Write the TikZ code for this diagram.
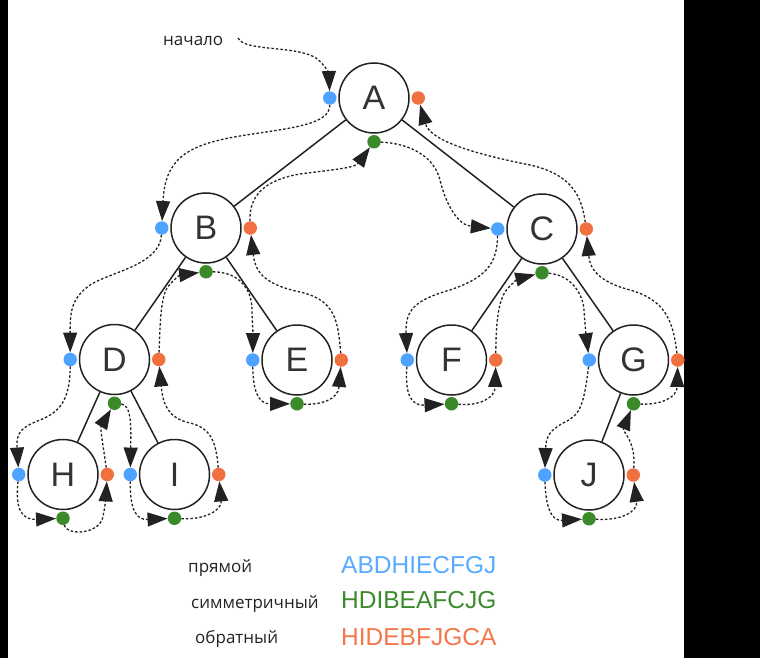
\documentclass[tikz,border=0pt]{standalone}
\usepackage{fontspec}
\setmainfont{Liberation Sans}
\newfontfamily\labfont{Open Sans}
\usetikzlibrary{arrows.meta}
\definecolor{dblue}{HTML}{4DA3FF}
\definecolor{dorange}{HTML}{F07040}
\definecolor{dgreen}{HTML}{3A8A2A}
\definecolor{lblue}{HTML}{5AABFF}
\definecolor{lgreen}{HTML}{3B8A2B}
\definecolor{lorange}{HTML}{F2784B}
\definecolor{ink}{HTML}{222222}
\begin{document}
\begin{tikzpicture}[x=1pt,y=-1pt,
  vtx/.style={circle, draw=ink, line width=1.5pt, minimum size=70pt, inner sep=0pt,
              font=\fontsize{34}{34}\selectfont, text=black!80},
  dotb/.style={circle, fill=dblue, minimum size=13.5pt, inner sep=0pt},
  doto/.style={circle, fill=dorange, minimum size=13.5pt, inner sep=0pt},
  dotg/.style={circle, fill=dgreen, minimum size=13.5pt, inner sep=0pt},
  treeedge/.style={line width=1.5pt, draw=ink},
  trav/.style={line width=1.3pt, draw=ink, dash pattern=on 2.5pt off 2pt,
               -{Triangle[length=20pt,width=14pt]}},
  lab/.style={font=\labfont\fontsize{17}{17}\selectfont, text=ink, anchor=base west, inner sep=0pt},
  seq/.style={font=\fontsize{24.5}{24.5}\selectfont, anchor=base west, inner sep=0pt}
]
\useasboundingbox (0,0) rectangle (760,658);
\fill[black] (0,0) rectangle (8,658);
\fill[black] (684,0) rectangle (760,658);

% vertices
\node[vtx] (A) at (374,98) {A};
\node[vtx] (B) at (206,228) {B};
\node[vtx] (C) at (542,229) {C};
\node[vtx] (D) at (114.5,359.5) {D};
\node[vtx] (E) at (297,360) {E};
\node[vtx] (F) at (451.5,360) {F};
\node[vtx] (G) at (633.5,360) {G};
\node[vtx] (H) at (63,474.5) {H};
\node[vtx] (I) at (174.5,474.5) {I};
\node[vtx] (J) at (589,475) {J};

% tree edges
\draw[treeedge] (A) -- (B);
\draw[treeedge] (A) -- (C);
\draw[treeedge] (B) -- (D);
\draw[treeedge] (B) -- (E);
\draw[treeedge] (C) -- (F);
\draw[treeedge] (C) -- (G);
\draw[treeedge] (D) -- (H);
\draw[treeedge] (D) -- (I);
\draw[treeedge] (G) -- (J);

% dots
\foreach \v in {A,B,C,D,E,F,G,H,I,J}{
  \node[dotb] (\v b) at ([xshift=-8.5pt]\v.west) {};
  \node[doto] (\v o) at ([xshift=8.5pt]\v.east) {};
  \node[dotg] (\v g) at ([yshift=-8pt]\v.south) {};
}

% start label
\node[lab] (start) at (163,46) {начало};
\coordinate (s0) at (238,38);

% traversal
\draw[trav] (s0) .. controls (245,52) and (295,45) .. (316,58) .. controls (326,66) and (329,74) .. (Ab);
\draw[trav] (Ab) .. controls (330,125) and (290,128) .. (240,136) .. controls (185,145) and (165,160) .. (Bb);
\draw[trav] (Bb) .. controls (160,265) and (110,272) .. (90,285) .. controls (72,298) and (70,310) .. (Db);
\draw[trav] (Db) .. controls (70,400) and (60,412) .. (40,420) .. controls (22,427) and (16,432) .. (Hb);
\draw[trav] (Hb) .. controls (15,510) and (22,520) .. (Hg);
\draw[trav] (Hg) .. controls (66,535) and (95,535) .. (102,520) .. controls (105,510) and (106,495) .. (Ho);
\draw[trav] (Ho) .. controls (103,445) and (100,428) .. (Dg);
\draw[trav] (Dg) .. controls (132,405) and (131,430) .. (Ib);
\draw[trav] (Ib) .. controls (130,510) and (136,520) .. (Ig);
\draw[trav] (Ig) .. controls (205,520) and (222,510) .. (Io);
\draw[trav] (Io) .. controls (216,440) and (210,428) .. (190,423) .. controls (168,418) and (163,405) .. (Do);
\draw[trav] (Do) .. controls (160,330) and (160,300) .. (167,288) .. controls (173,280) and (180,275) .. (Bg);
\draw[trav] (Bg) .. controls (240,272) and (252,290) .. (252,310) .. controls (252,320) and (253,330) .. (Eb);
\draw[trav] (Eb) .. controls (253,390) and (258,404) .. (Eg);
\draw[trav] (Eg) .. controls (320,405) and (338,400) .. (Eo);
\draw[trav] (Eo) .. controls (338,320) and (335,300) .. (300,292) .. controls (262,284) and (255,270) .. (Bo);
\draw[trav] (Bo) .. controls (249,195) and (265,180) .. (300,174) .. controls (330,170) and (355,168) .. (Ag);
\draw[trav] (Ag) .. controls (400,143) and (432,150) .. (440,180) .. controls (446,205) and (458,225) .. (Cb);
\draw[trav] (Cb) .. controls (497,265) and (485,278) .. (450,290) .. controls (415,300) and (405,310) .. (Fb);
\draw[trav] (Fb) .. controls (405,395) and (411,406) .. (Fg);
\draw[trav] (Fg) .. controls (480,406) and (495,398) .. (Fo);
\draw[trav] (Fo) .. controls (496,330) and (497,305) .. (505,292) .. controls (510,285) and (518,279) .. (Cg);
\draw[trav] (Cg) .. controls (572,275) and (583,295) .. (584,310) .. controls (585,325) and (586,335) .. (Gb);
\draw[trav] (Gb) .. controls (584,405) and (580,415) .. (565,422) .. controls (550,430) and (546,436) .. (Jb);
\draw[trav] (Jb) .. controls (546,510) and (552,521) .. (Jg);
\draw[trav] (Jg) .. controls (620,521) and (638,512) .. (Jo);
\draw[trav] (Jo) .. controls (636,440) and (622,432) .. (Gg);
\draw[trav] (Gg) .. controls (660,405) and (677,398) .. (Go);
\draw[trav] (Go) .. controls (673,320) and (665,300) .. (630,290) .. controls (600,282) and (590,270) .. (Co);
\draw[trav] (Co) .. controls (582,200) and (575,175) .. (530,165) .. controls (470,153) and (430,140) .. (Ao);

% legend
\node[lab] (l1) at (188,572) {прямой};
\node[lab] (l2) at (191,608) {симметричный};
\node[lab] (l3) at (195,643) {обратный};
\node[seq, text=lblue] (s1) at (341,573) {ABDHIECFGJ};
\node[seq, text=lgreen] (s2) at (341,608) {HDIBEAFCJG};
\node[seq, text=lorange] (s3) at (341,645) {HIDEBFJGCA};
\end{tikzpicture}
\end{document}
